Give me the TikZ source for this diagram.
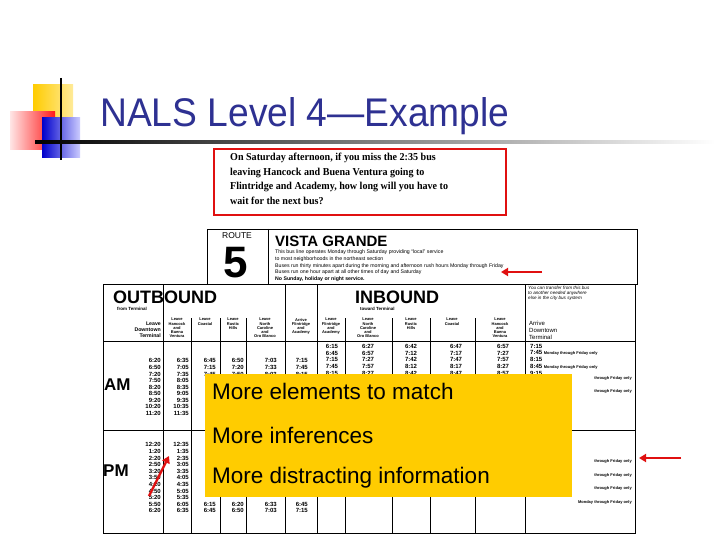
\documentclass[tikz,border=0pt]{standalone}
\usepackage{fontspec}
\usetikzlibrary{arrows.meta}
\setmainfont{Liberation Serif}
\setsansfont{Liberation Sans}
\definecolor{titleblue}{HTML}{2E3192}
\definecolor{boxyellow}{HTML}{FFCC00}
\definecolor{arrred}{HTML}{E01010}
\begin{document}
\begin{tikzpicture}[x=1pt,y=-1pt,
  tm/.style={inner sep=0,font=\sffamily\bfseries\fontsize{6}{6}\selectfont},
  hd/.style={inner sep=0,font=\sffamily\bfseries\fontsize{4}{4.2}\selectfont,align=center,anchor=north},
  grid/.style={line width=0.8pt},
  thin/.style={line width=0.4pt},
  bullet/.style={inner sep=0,anchor=west,font=\sffamily\fontsize{22.5}{22.5}\selectfont},
  redarrow/.style={draw=arrred,line width=2.4pt,-{Triangle[length=7pt,width=8pt]}}]
\useasboundingbox (0,0) rectangle (720,540);
\fill[white] (0,0) rectangle (720,540);
% logo
\shade[left color=boxyellow,right color=boxyellow!40] (33,85) rectangle (73,125);
\shade[left color=red!10,right color=red!90] (10,112) rectangle (55,150);
\shade[left color=blue!80!black,right color=blue!20] (42,118) rectangle (80,158);
\draw[line width=2pt] (61,78) -- (61,160);
\shade[left color=black,right color=white] (35,141) rectangle (715,144);
\node[anchor=base west,inner sep=0,text=titleblue,font=\sffamily\fontsize{40}{40}\selectfont,xscale=0.93] (title) at (100,127) {NALS Level 4—Example};
% question box
\draw[draw=arrred,line width=2.5pt] (214,149) rectangle (506,215);
\node[anchor=north west,inner sep=0,align=left,font=\bfseries\fontsize{10.6}{14.5}\selectfont,xscale=0.95] (q) at (230,153)
 {On Saturday afternoon, if you miss the 2:35 bus\\leaving Hancock and Buena Ventura going to\\Flintridge and Academy, how long will you have to\\wait for the next bus?};
% route box
\draw[grid] (207,229) rectangle (637,284);
\draw[grid] (268,229) -- (268,284);
\node[inner sep=0,font=\sffamily\fontsize{8.5}{8.5}\selectfont] (route) at (237,236) {ROUTE};
\node[inner sep=0,font=\sffamily\bfseries\fontsize{44}{44}\selectfont] (five) at (236,263) {5};
\node[anchor=west,inner sep=0,font=\sffamily\bfseries\fontsize{15}{15}\selectfont] (vista) at (275,241) {VISTA GRANDE};
\node[anchor=north west,inner sep=0,align=left,font=\sffamily\fontsize{5.2}{6.6}\selectfont] (desc) at (275,250)
 {This bus line operates Monday through Saturday providing ``local'' service\\to most neighborhoods in the northeast section\\Buses run thirty minutes apart during the morning and afternoon rush hours Monday through Friday\\Buses run one hour apart at all other times of day and Saturday\\\textbf{No Sunday, holiday or night service.}};
% main table
\draw[grid] (103,284) rectangle (635,533);
\draw[grid] (103,341) -- (635,341);
\draw[grid] (103,430) -- (635,430);
\foreach \xx in {163,317,525} \draw[grid] (\xx,284) -- (\xx,533);
\draw[grid] (285,284) -- (285,533);
\foreach \xx in {191,220,246,345,392,430,475} \draw[thin] (\xx,318) -- (\xx,533);
\node[anchor=west,inner sep=0,font=\sffamily\bfseries\fontsize{18}{18}\selectfont] (outb) at (113,297) {OUTBOUND};
\node[anchor=west,inner sep=0,font=\sffamily\bfseries\fontsize{4.5}{4.5}\selectfont] (fromt) at (117,309) {from Terminal};
\node[anchor=west,inner sep=0,font=\sffamily\bfseries\fontsize{18}{18}\selectfont] (inb) at (355,297) {INBOUND};
\node[anchor=west,inner sep=0,font=\sffamily\bfseries\fontsize{4.5}{4.5}\selectfont] (towt) at (360,309) {toward Terminal};
\node[anchor=north west,inner sep=0,align=left,font=\sffamily\itshape\fontsize{4.6}{5}\selectfont] (transfer) at (528,286) {You can transfer from this bus\\to another needed anywhere\\else in the city bus system};
\node[anchor=north east,inner sep=0,align=right,font=\sffamily\bfseries\fontsize{5.2}{6}\selectfont] (h1) at (161,322) {Leave\\Downtown\\Terminal};
\node[hd] (h2) at (177,318) {Leave\\Hancock\\and\\Buena\\Ventura};
\node[hd] (h3) at (205,318) {Leave\\Coastal};
\node[hd] (h4) at (233,318) {Leave\\Rustic\\Hills};
\node[hd] (h5) at (265,318) {Leave\\North\\Caroline\\and\\Oro Blanco};
\node[hd] (h6) at (301,318) {Arrive\\Flintridge\\and\\Academy};
\node[hd] (h7) at (331,318) {Leave\\Flintridge\\and\\Academy};
\node[hd] (h8) at (368,318) {Leave\\North\\Caroline\\and\\Oro Blanco};
\node[hd] (h9) at (411,318) {Leave\\Rustic\\Hills};
\node[hd] (h10) at (452,318) {Leave\\Coastal};
\node[hd] (h11) at (500,318) {Leave\\Hancock\\and\\Buena\\Ventura};
\node[anchor=north west,inner sep=0,align=left,font=\sffamily\fontsize{6}{6.8}\selectfont] (h12) at (529,321) {Arrive\\Downtown\\Terminal};
\node[anchor=west,inner sep=0,font=\sffamily\bfseries\fontsize{17}{17}\selectfont] (am) at (104,385) {AM};
\node[anchor=west,inner sep=0,font=\sffamily\bfseries\fontsize{17}{17}\selectfont] (pm) at (103,471) {PM};
% outbound AM
\foreach \a/\b [count=\i from 0] in {6:20/6:35,6:50/7:05,7:20/7:35,7:50/8:05,8:20/8:35,8:50/9:05,9:20/9:35,10:20/10:35,11:20/11:35}{
  \node[tm,anchor=east] (oa\i) at (161,360.8+6.59*\i) {\a};
  \node[tm,anchor=east] (ob\i) at (189,360.8+6.59*\i) {\b};}
\foreach \a/\b/\c/\d [count=\i from 0] in {6:45/6:50/7:03/7:15,7:15/7:20/7:33/7:45,7:45/7:50/8:03/8:15}{
  \node[tm,anchor=east] (oc\i) at (216,360.8+6.59*\i) {\a};
  \node[tm,anchor=east] (od\i) at (244,360.8+6.59*\i) {\b};
  \node[tm,anchor=east] (oe\i) at (277,360.8+6.59*\i) {\c};
  \node[tm,anchor=east] (of\i) at (308,360.8+6.59*\i) {\d};}
% outbound PM
\foreach \a/\b [count=\i from 0] in {12:20/12:35,1:20/1:35,2:20/2:35,2:50/3:05,3:20/3:35,3:50/4:05,4:20/4:35,4:50/5:05,5:20/5:35,5:50/6:05,6:20/6:35}{
  \node[tm,anchor=east] (pa\i) at (161,444.9+6.59*\i) {\a};
  \node[tm,anchor=east] (pb\i) at (189,444.9+6.59*\i) {\b};}
\foreach \a/\b/\c/\d [count=\i from 9] in {6:15/6:20/6:33/6:45,6:45/6:50/7:03/7:15}{
  \node[tm,anchor=east] (pc\i) at (216,444.9+6.59*\i) {\a};
  \node[tm,anchor=east] (pd\i) at (244,444.9+6.59*\i) {\b};
  \node[tm,anchor=east] (pe\i) at (277,444.9+6.59*\i) {\c};
  \node[tm,anchor=east] (pf\i) at (308,444.9+6.59*\i) {\d};}
% inbound AM
\foreach \a/\b/\c/\d/\e [count=\i from 0] in {6:15/6:27/6:42/6:47/6:57,6:45/6:57/7:12/7:17/7:27,7:15/7:27/7:42/7:47/7:57,7:45/7:57/8:12/8:17/8:27,8:15/8:27/8:42/8:47/8:57}{
  \node[tm] (ia\i) at (332,346.7+6.59*\i) {\a};
  \node[tm] (ib\i) at (368,346.7+6.59*\i) {\b};
  \node[tm] (ic\i) at (411,346.7+6.59*\i) {\c};
  \node[tm] (id\i) at (456,346.7+6.59*\i) {\d};
  \node[tm] (ie\i) at (503,346.7+6.59*\i) {\e};}
\foreach \a/\b [count=\i from 0] in {7:15/,7:45/Monday through Friday only,8:15/,8:45/Monday through Friday only,9:15/}{
  \node[tm,anchor=west] (ig\i) at (530,346.7+6.59*\i) {\a\ {\fontsize{4}{4}\selectfont\b}};}
\foreach \yy [count=\i] in {378,391}
  \node[tm,anchor=east,font=\sffamily\bfseries\fontsize{4}{4}\selectfont] (ar\i) at (632,\yy) {through Friday only};
\foreach \yy [count=\i] in {461,475,488}
  \node[tm,anchor=east,font=\sffamily\bfseries\fontsize{4}{4}\selectfont] (pr\i) at (632,\yy) {through Friday only};
\node[tm,anchor=east,font=\sffamily\bfseries\fontsize{4}{4}\selectfont] (pr4) at (632,502) {Monday through Friday only};
% yellow overlay
\fill[boxyellow] (205,374) rectangle (572,497);
\node[bullet] (b1) at (212,391) {More elements to match};
\node[bullet] (b2) at (212,435) {More inferences};
\node[bullet] (b3) at (212,478) {More distracting information};
% red arrows
\coordinate (a1s) at (542,272); \coordinate (a1e) at (501,272);
\coordinate (a2s) at (681,458); \coordinate (a2e) at (639,458);
\coordinate (a3s) at (149,496); \coordinate (a3e) at (169,456);
\draw[redarrow] (a1s) -- (a1e);
\draw[redarrow] (a2s) -- (a2e);
\draw[redarrow] (a3s) -- (a3e);
\end{tikzpicture}
\end{document}
